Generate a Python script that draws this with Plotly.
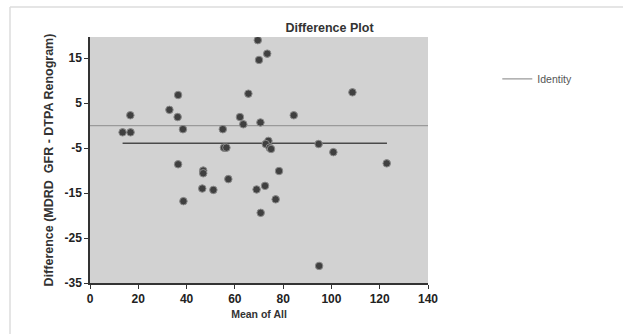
import plotly.graph_objects as go

mean_of_all = [69.5, 73.4, 70.0, 65.6, 108.7, 36.5, 16.7, 32.9, 36.3, 62.1, 63.5, 70.6, 84.4,
               38.5, 55.0, 13.5, 16.8, 55.5, 56.5, 73.9, 72.8, 74.4, 75.0, 94.7, 100.8, 36.5,
               122.9, 46.9, 46.9, 78.3, 57.3, 46.5, 51.1, 69.0, 72.5, 38.7, 76.9, 70.7, 94.9]
difference = [19.0, 16.0, 14.6, 7.1, 7.4, 6.8, 2.3, 3.5, 1.9, 1.9, 0.3, 0.7, 2.3,
              -0.8, -0.8, -1.5, -1.5, -4.9, -4.9, -3.4, -4.1, -4.9, -5.2, -4.1, -5.9, -8.6,
              -8.4, -10.0, -10.6, -10.1, -11.9, -14.0, -14.3, -14.2, -13.4, -16.8, -16.4, -19.4, -31.2]
mean_line_x = [13.5, 123.0]
mean_line_y = [-3.9, -3.9]
identity_x = [0, 140]
identity_y = [0, 0]
y_ticks = [15, 5, -5, -15, -25, -35]
y_tick_text = ["15", "5", "-5", "-15", "-25", "-35"]
x_ticks = [0, 20, 40, 60, 80, 100, 120, 140]
x_tick_text = ["0", "20", "40", "60", "80", "100", "120", "140"]

font = "Arial, Liberation Sans, sans-serif"

fig = go.Figure()
fig.add_trace(go.Scatter(x=identity_x, y=identity_y, mode="lines", name="Identity",
                         line=dict(color="#9a9a9a", width=1.3), showlegend=True))
fig.add_trace(go.Scatter(x=mean_line_x, y=mean_line_y, mode="lines", name="Mean",
                         line=dict(color="#4a4a4a", width=1.5), showlegend=False))
fig.add_trace(go.Scatter(x=mean_of_all, y=difference, mode="markers", name="Data",
                         marker=dict(size=7.5, color="#404040",
                                     line=dict(color="#8a8a8a", width=1)),
                         showlegend=False))

fig.update_layout(
    width=623, height=334,
    margin=dict(l=90, r=195, t=37, b=51),
    paper_bgcolor="white",
    plot_bgcolor="#d2d2d2",
    font=dict(family=font, color="#222", size=11),
    title=dict(text="<b>Difference Plot</b>", x=329.5 / 623, xanchor="center",
               y=1 - 27.5 / 334, yanchor="middle", font=dict(size=12.5, color="#333")),
    showlegend=True,
    legend=dict(x=1.205, y=0.83, xanchor="left", yanchor="middle",
                bgcolor="rgba(0,0,0,0)", font=dict(size=10.5, color="#555"),
                itemwidth=30),
    xaxis=dict(range=[0, 140], tickvals=x_ticks, ticktext=x_tick_text, ticks="outside", ticklen=4,
               tickcolor="#333", showline=True, linecolor="#333", linewidth=1.5,
               showgrid=False, zeroline=False,
               tickfont=dict(size=12, color="#222", weight="bold"),
               title=dict(text="<b>Mean of All</b>", standoff=5,
                          font=dict(size=10.5, color="#333"))),
    yaxis=dict(range=[-35, 19.7], tickvals=y_ticks, ticktext=y_tick_text, ticks="outside", ticklen=4,
               tickcolor="#333", showline=True, linecolor="#333", linewidth=1.5,
               showgrid=False, zeroline=False,
               tickfont=dict(size=12, color="#222", weight="bold"),
               title=dict(text="<b>Difference (MDRD  GFR - DTPA Renogram)</b>", standoff=8,
                          font=dict(size=12.5, color="#333"))),
)

# faint outer frame
fig.add_shape(type="line", xref="paper", yref="paper",
              x0=(10 - 90) / 338, x1=(623 - 90) / 338, y0=(283 - 7) / 246, y1=(283 - 7) / 246,
              line=dict(color="#dcdcdc", width=1.5))
fig.add_shape(type="line", xref="paper", yref="paper",
              x0=(10 - 90) / 338, x1=(10 - 90) / 338, y0=(283 - 7) / 246, y1=(283 - 334) / 246,
              line=dict(color="#dcdcdc", width=1.5))

fig.write_html("out.html")
